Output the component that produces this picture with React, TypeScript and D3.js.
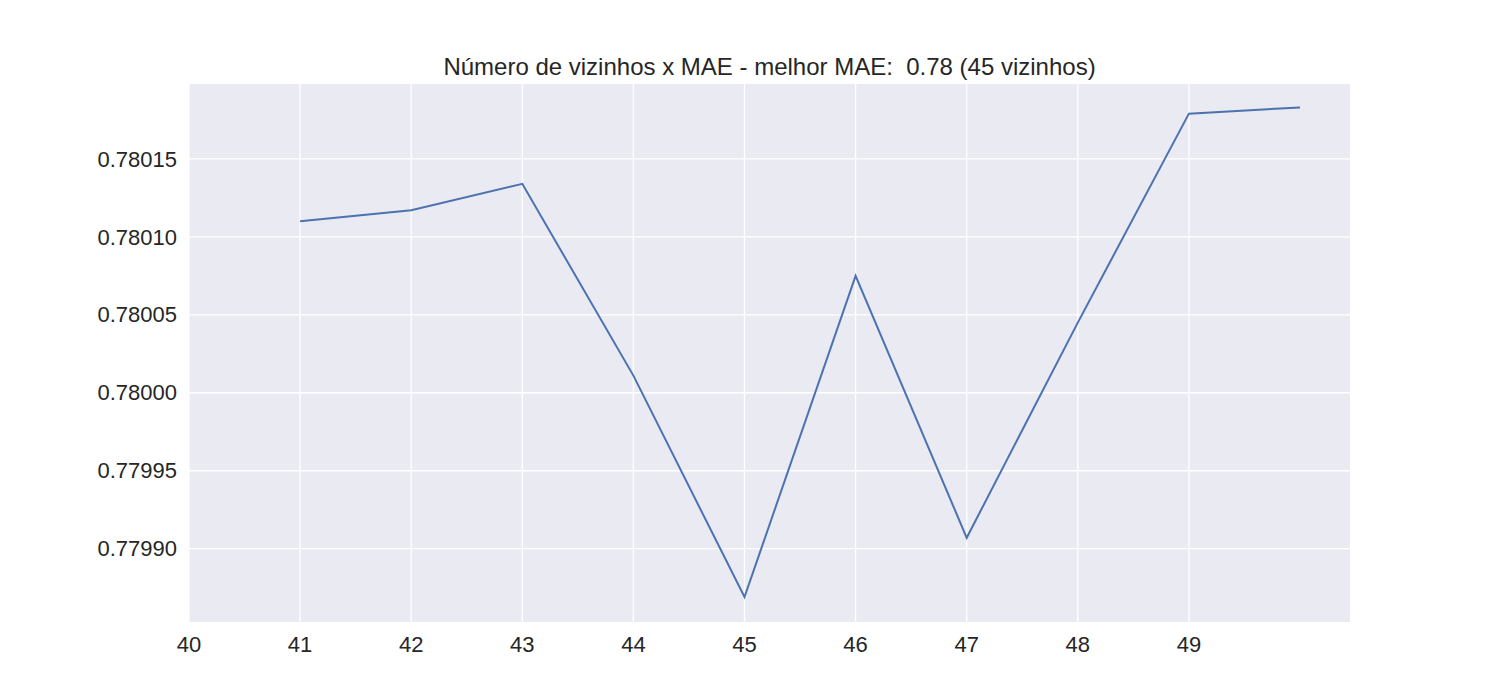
import React from 'react';
import * as d3 from 'd3';

const neighbors = [41, 42, 43, 44, 45, 46, 47, 48, 49, 50];
const maeValues = [0.78011, 0.780117, 0.780134, 0.780011, 0.779869, 0.780075, 0.779907, 0.780045, 0.780179, 0.780183];
const xTicks = [40, 41, 42, 43, 44, 45, 46, 47, 48, 49];
const yTicks = [0.7799, 0.77995, 0.78, 0.78005, 0.7801, 0.78015];

const W = 1500, H = 700;
const m = { left: 189, right: 1350, top: 84, bottom: 622 };

export default function App() {
  const x = d3.scaleLinear().domain([40, 50.45]).range([m.left, m.right]);
  const y = d3.scaleLinear().domain([0.779853, 0.780198]).range([m.bottom, m.top]);
  const line = d3.line<number>().x((_, i) => x(neighbors[i])).y(d => y(d));
  const font = "'Liberation Sans', Arial, sans-serif";
  return (
    <svg width={W} height={H} style={{ position: 'absolute', left: 0, top: 0 }} fontFamily={font}>
      <rect width={W} height={H} fill="#fff" />
      <rect x={m.left} y={m.top} width={m.right - m.left} height={m.bottom - m.top} fill="#eaeaf2" />
      {xTicks.map(t => (
        <g key={'x' + t}>
          <line x1={x(t)} x2={x(t)} y1={m.top} y2={m.bottom} stroke="#fff" strokeWidth={1.3} />
          <text x={x(t)} y={m.bottom + 30} textAnchor="middle" fontSize={22} fill="#262626">{t}</text>
        </g>
      ))}
      {yTicks.map(t => (
        <g key={'y' + t}>
          <line x1={m.left} x2={m.right} y1={y(t)} y2={y(t)} stroke="#fff" strokeWidth={1.3} />
          <text x={m.left - 12} y={y(t)} dy="0.35em" textAnchor="end" fontSize={22} fill="#262626">{t.toFixed(5)}</text>
        </g>
      ))}
      <path d={line(maeValues) || ''} fill="none" stroke="#4c72b0" strokeWidth={2} />
      <text x={(m.left + m.right) / 2} y={m.top - 9} textAnchor="middle" fontSize={24} fill="#262626" style={{ whiteSpace: 'pre' }}>
        Número de vizinhos x MAE - melhor MAE:  0.78 (45 vizinhos)
      </text>
    </svg>
  );
}
